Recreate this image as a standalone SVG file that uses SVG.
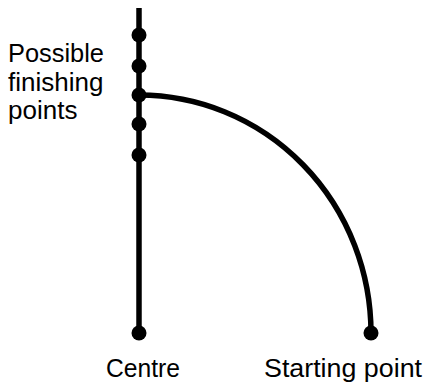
<svg xmlns="http://www.w3.org/2000/svg" width="426" height="385" viewBox="0 0 426 385">
<style>
.ln{fill:none;stroke:#000;stroke-width:5.5;stroke-linecap:butt}
.dot{fill:#000}
text{font-family:"Liberation Sans",Arial,sans-serif;font-size:25px;fill:#000}
.lab{font-size:26px}
</style>
<rect width="426" height="385" fill="#fff"/>
<g id="connectors">
<line class="ln" x1="139" y1="8" x2="139" y2="333"/>
<path class="ln" d="M139,95 A232,238 0 0 1 371,333"/>
</g>
<g id="finish1"><circle class="dot" cx="139" cy="35" r="7.5"/></g>
<g id="finish2"><circle class="dot" cx="139" cy="66" r="7.5"/></g>
<g id="finish3"><circle class="dot" cx="139" cy="95" r="7.5"/></g>
<g id="finish4"><circle class="dot" cx="139" cy="124" r="7.5"/></g>
<g id="finish5"><circle class="dot" cx="139" cy="155" r="7.5"/></g>
<g id="centre"><circle class="dot" cx="139" cy="333" r="7.5"/><text x="106" y="377" textLength="74" lengthAdjust="spacingAndGlyphs">Centre</text></g>
<g id="start"><circle class="dot" cx="371" cy="333" r="7.5"/><text x="264" y="377" textLength="158" lengthAdjust="spacingAndGlyphs">Starting point</text></g>
<g id="label" class="lab"><text class="lab" x="8" y="62" textLength="96" lengthAdjust="spacingAndGlyphs">Possible</text><text class="lab" x="8" y="91">finishing</text><text class="lab" x="8" y="119">points</text></g>
</svg>
